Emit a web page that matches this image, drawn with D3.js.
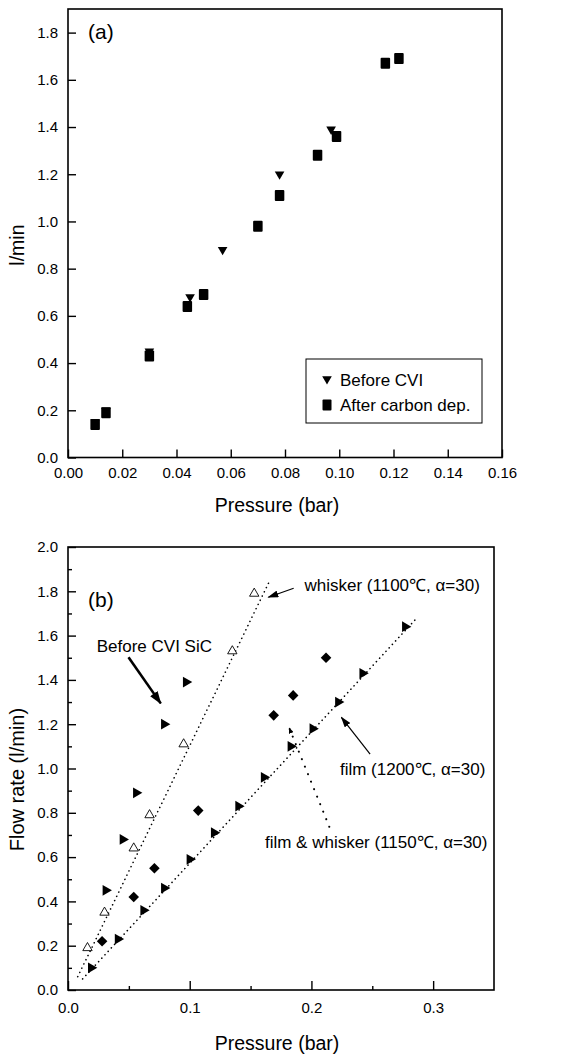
<!DOCTYPE html>
<html>
<head>
<meta charset="utf-8">
<script src="https://cdn.jsdelivr.net/npm/d3@7"></script>
<style>
  body { margin: 0; background: #fff; }
  svg { display: block; font-family: "Liberation Sans", Arial, sans-serif; }
</style>
</head>
<body>
<svg id="chart" width="576" height="1055"></svg>
<script>
// ---- panel (a) data ----
const pressBeforeCVI = [0.010, 0.014, 0.030, 0.045, 0.057, 0.078, 0.097];
const flowBeforeCVI  = [0.15, 0.20, 0.45, 0.68, 0.88, 1.20, 1.39];
const pressAfterC = [0.010, 0.014, 0.030, 0.044, 0.050, 0.070, 0.078, 0.092, 0.099, 0.117, 0.122];
const flowAfterC  = [0.14, 0.19, 0.43, 0.64, 0.69, 0.98, 1.11, 1.28, 1.36, 1.67, 1.69];
const xTicksA = [0, 0.02, 0.04, 0.06, 0.08, 0.10, 0.12, 0.14, 0.16];
const yTicksA = [0, 0.2, 0.4, 0.6, 0.8, 1.0, 1.2, 1.4, 1.6, 1.8];
const legendA = ['Before CVI', 'After carbon dep.'];

// ---- panel (b) data ----
const pressWhisker = [0.016, 0.030, 0.054, 0.067, 0.095, 0.135, 0.153];
const flowWhisker  = [0.19, 0.35, 0.64, 0.79, 1.11, 1.53, 1.79];
const pressBeforeSiC = [0.031, 0.045, 0.056, 0.079, 0.097];
const flowBeforeSiC  = [0.45, 0.68, 0.89, 1.20, 1.39];
const pressFilm = [0.019, 0.041, 0.062, 0.079, 0.100, 0.120, 0.140, 0.161, 0.183, 0.201, 0.222, 0.242, 0.277];
const flowFilm  = [0.10, 0.23, 0.36, 0.46, 0.59, 0.71, 0.83, 0.96, 1.10, 1.18, 1.30, 1.43, 1.64];
const pressFilmWhisker = [0.028, 0.054, 0.071, 0.107, 0.169, 0.185, 0.212];
const flowFilmWhisker  = [0.22, 0.42, 0.55, 0.81, 1.24, 1.33, 1.50];
// dotted fit lines (end points)
const pressWhiskerFit = [0.008, 0.165];
const flowWhiskerFit  = [0.06, 1.84];
const pressFilmFit = [0.012, 0.285];
const flowFilmFit  = [0.05, 1.67];
const xTicksB = [0, 0.1, 0.2, 0.3];
const xMinorB = [0.05, 0.15, 0.25];
const yTicksB = [0, 0.2, 0.4, 0.6, 0.8, 1.0, 1.2, 1.4, 1.6, 1.8, 2.0];
const yMinorB = [0.1, 0.3, 0.5, 0.7, 0.9, 1.1, 1.3, 1.5, 1.7, 1.9];

const zip = (xs, ys) => xs.map((x, i) => [x, ys[i]]);

const svg = d3.select('#chart');
svg.append('rect').attr('width', 576).attr('height', 1055).attr('fill', '#fff');

const defs = svg.append('defs');
defs.append('marker')
  .attr('id', 'arrowThin').attr('markerUnits', 'userSpaceOnUse')
  .attr('markerWidth', 11).attr('markerHeight', 7)
  .attr('refX', 10).attr('refY', 3.5).attr('orient', 'auto')
  .append('path').attr('d', 'M0,0 L11,3.5 L0,7 Z').attr('fill', '#000');
defs.append('marker')
  .attr('id', 'arrowThick').attr('markerUnits', 'userSpaceOnUse')
  .attr('markerWidth', 13).attr('markerHeight', 9)
  .attr('refX', 12).attr('refY', 4.5).attr('orient', 'auto')
  .append('path').attr('d', 'M0,0 L13,4.5 L0,9 Z').attr('fill', '#000');
defs.append('marker')
  .attr('id', 'arrowSmall').attr('markerUnits', 'userSpaceOnUse')
  .attr('markerWidth', 6).attr('markerHeight', 5)
  .attr('refX', 5).attr('refY', 2.5).attr('orient', 'auto')
  .append('path').attr('d', 'M0,0 L6,2.5 L0,5 Z').attr('fill', '#000');

function styleAxis(g) {
  g.select('.domain').remove();
  g.attr('font-family', null).attr('font-size', 15);
  g.selectAll('.tick line').attr('stroke-width', 1.4);
  g.selectAll('.tick text').attr('fill', '#000');
}

function drawFrame(x, y) {
  svg.append('rect')
    .attr('x', x.range()[0]).attr('y', y.range()[1])
    .attr('width', x.range()[1] - x.range()[0])
    .attr('height', y.range()[0] - y.range()[1])
    .attr('fill', 'none').attr('stroke', '#000').attr('stroke-width', 1.6);
}

// ================= panel (a) =================
const xA = d3.scaleLinear().domain([0, 0.16]).range([68, 502]);
const yA = d3.scaleLinear().domain([0, 1.9]).range([457.5, 9]);

svg.append('g').attr('transform', `translate(0,${yA(0)})`)
  .call(d3.axisBottom(xA).tickValues(xTicksA).tickFormat(d3.format('.2f')).tickSize(-8).tickPadding(10))
  .call(styleAxis);
svg.append('g').attr('transform', `translate(${xA(0)},0)`)
  .call(d3.axisLeft(yA).tickValues(yTicksA).tickFormat(d3.format('.1f')).tickSize(-8).tickPadding(10))
  .call(styleAxis);
drawFrame(xA, yA);

svg.append('text').attr('x', 277).attr('y', 512)
  .attr('text-anchor', 'middle').attr('font-size', 19.5).text('Pressure (bar)');
svg.append('text').attr('transform', `translate(24,${yA(0.9)}) rotate(-90)`)
  .attr('text-anchor', 'middle').attr('font-size', 19.5).text('l/min');
svg.append('text').attr('x', 88).attr('y', 39).attr('font-size', 21).text('(a)');

const triDown = d3.symbol(d3.symbolTriangle, 40);
svg.append('g').selectAll('path').data(zip(pressBeforeCVI, flowBeforeCVI)).join('path')
  .attr('d', triDown)
  .attr('transform', d => `translate(${xA(d[0])},${yA(d[1])}) rotate(180)`)
  .attr('fill', '#000');
svg.append('g').selectAll('rect').data(zip(pressAfterC, flowAfterC)).join('rect')
  .attr('x', d => xA(d[0]) - 4.75).attr('y', d => yA(d[1]) - 5.5)
  .attr('width', 9.5).attr('height', 11).attr('rx', 1)
  .attr('fill', '#000');

// legend
const lg = svg.append('g').attr('transform', 'translate(306,359)');
lg.append('rect').attr('width', 176).attr('height', 64)
  .attr('fill', '#fff').attr('stroke', '#000').attr('stroke-width', 1);
lg.append('path').attr('d', triDown)
  .attr('transform', 'translate(21,20) rotate(180)').attr('fill', '#000');
lg.append('rect').attr('x', 16.5).attr('y', 40.5).attr('width', 9).attr('height', 11).attr('rx', 1).attr('fill', '#000');
lg.selectAll('text.lab').data(legendA).join('text').attr('class', 'lab')
  .attr('x', 34).attr('y', (d, i) => 26.5 + i * 25.5)
  .attr('font-size', 17).text(d => d);

// ================= panel (b) =================
const xB = d3.scaleLinear().domain([0, 0.35]).range([68, 494]);
const yB = d3.scaleLinear().domain([0, 2.0]).range([990, 547]);

svg.append('g').attr('transform', `translate(0,${yB(0)})`)
  .call(d3.axisBottom(xB).tickValues(xTicksB).tickFormat(d3.format('.1f')).tickSize(-9).tickPadding(12))
  .call(styleAxis);
svg.append('g').attr('transform', `translate(0,${yB(0)})`)
  .call(d3.axisBottom(xB).tickValues(xMinorB).tickFormat('').tickSize(-4))
  .call(styleAxis);
svg.append('g').attr('transform', `translate(${xB(0)},0)`)
  .call(d3.axisLeft(yB).tickValues(yTicksB).tickFormat(d3.format('.1f')).tickSize(-8).tickPadding(10))
  .call(styleAxis);
svg.append('g').attr('transform', `translate(${xB(0)},0)`)
  .call(d3.axisLeft(yB).tickValues(yMinorB).tickFormat('').tickSize(-4))
  .call(styleAxis);
drawFrame(xB, yB);

svg.append('text').attr('x', 277).attr('y', 1050)
  .attr('text-anchor', 'middle').attr('font-size', 19.5).text('Pressure (bar)');
svg.append('text').attr('transform', `translate(24,${yB(0.95)}) rotate(-90)`)
  .attr('text-anchor', 'middle').attr('font-size', 20).text('Flow rate (l/min)');
svg.append('text').attr('x', 88).attr('y', 607).attr('font-size', 21).text('(b)');

// dotted fit lines
const lineB = d3.line().x(d => xB(d[0])).y(d => yB(d[1]));
[zip(pressWhiskerFit, flowWhiskerFit), zip(pressFilmFit, flowFilmFit)].forEach(pts => {
  svg.append('path').attr('d', lineB(pts))
    .attr('fill', 'none').attr('stroke', '#000').attr('stroke-width', 1.6)
    .attr('stroke-linecap', 'round').attr('stroke-dasharray', '0.1 4.6');
});

// markers
const triRight = d3.symbol(d3.symbolTriangle, 50);
const triUp = d3.symbol(d3.symbolTriangle, 38);
const diamond = d3.symbol(d3.symbolSquare, 56);

svg.append('g').selectAll('path').data(zip(pressWhisker, flowWhisker)).join('path')
  .attr('d', triUp)
  .attr('transform', d => `translate(${xB(d[0])},${yB(d[1])})`)
  .attr('fill', '#fff').attr('stroke', '#000').attr('stroke-width', 0.9);
svg.append('g').selectAll('path').data(zip(pressBeforeSiC, flowBeforeSiC).concat(zip(pressFilm, flowFilm))).join('path')
  .attr('d', triRight)
  .attr('transform', d => `translate(${xB(d[0])},${yB(d[1])}) rotate(90)`)
  .attr('fill', '#000');
svg.append('g').selectAll('path').data(zip(pressFilmWhisker, flowFilmWhisker)).join('path')
  .attr('d', diamond)
  .attr('transform', d => `translate(${xB(d[0])},${yB(d[1])}) rotate(45)`)
  .attr('fill', '#000');

// annotations (placed in data units)
function arrow(p0, p1, marker, width, dash) {
  const l = svg.append('line')
    .attr('x1', xB(p0[0])).attr('y1', yB(p0[1]))
    .attr('x2', xB(p1[0])).attr('y2', yB(p1[1]))
    .attr('stroke', '#000').attr('stroke-width', width)
    .attr('marker-end', `url(#${marker})`);
  if (dash) l.attr('stroke-dasharray', dash).attr('stroke-linecap', 'round');
}
function note(p, txt) {
  svg.append('text').attr('x', xB(p[0])).attr('y', yB(p[1]))
    .attr('font-size', 17).text(txt);
}

note([0.0236, 1.527], 'Before CVI SiC');
arrow([0.0497, 1.502], [0.0762, 1.294], 'arrowThick', 2.6);

note([0.1943, 1.803], 'whisker (1100℃, α=30)');
arrow([0.1854, 1.814], [0.1646, 1.773], 'arrowThin', 1.2);

note([0.2234, 0.971], 'film (1200℃, α=30)');
arrow([0.2482, 1.065], [0.2246, 1.231], 'arrowThin', 1.2);

note([0.1618, 0.640], 'film & whisker (1150℃, α=30)');
arrow([0.2147, 0.737], [0.1819, 1.181], 'arrowSmall', 2, '0.1 8');
</script>
</body>
</html>
